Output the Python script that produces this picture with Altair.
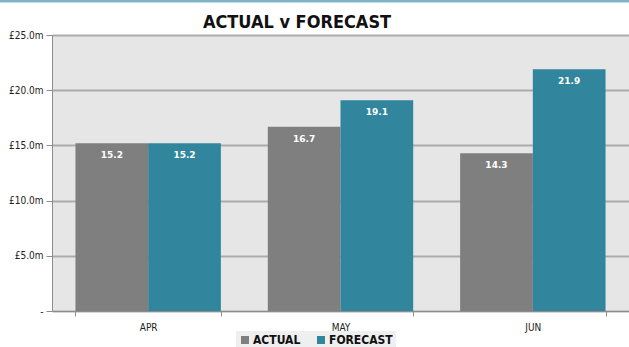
import altair as alt
import pandas as pd

months = ["APR", "MAY", "JUN"]
series = ["ACTUAL", "FORECAST"]
actual = [15.2, 16.7, 14.3]
forecast = [15.2, 19.1, 21.9]
title_text = "ACTUAL v FORECAST"

rows = []
for m, a, f in zip(months, actual, forecast):
    rows.append({"month": m, "series": "ACTUAL", "value": a})
    rows.append({"month": m, "series": "FORECAST", "value": f})
df = pd.DataFrame(rows)

FONT = "DejaVu Sans Condensed"

x = alt.X("month:N", sort=months, title=None,
          scale=alt.Scale(paddingInner=0.244, paddingOuter=0.122),
          axis=alt.Axis(labelAngle=0, tickBand="extent", labelFont=FONT, labelFontSize=10,
                        labelColor="#222222", domainColor="#8c8c8c", tickColor="#8c8c8c",
                        tickSize=5, labelPadding=6, grid=False))
xo = alt.XOffset("series:N", sort=series, scale=alt.Scale(paddingInner=0, paddingOuter=0))
y = alt.Y("value:Q", title=None,
          scale=alt.Scale(domain=[0, 25], nice=False),
          axis=alt.Axis(values=[0, 5, 10, 15, 20, 25],
                        labelExpr="datum.value == 0 ? '-' : '£' + format(datum.value, '.1f') + 'm'",
                        labelFont=FONT, labelFontSize=10, labelColor="#222222",
                        domainColor="#8c8c8c", tickColor="#8c8c8c", tickSize=6,
                        gridColor="#ababab", gridWidth=2, labelPadding=3))
color = alt.Color("series:N", sort=series,
                  scale=alt.Scale(domain=series, range=["#7f7f7f", "#31859c"]),
                  legend=alt.Legend(title=None, orient="none", direction="horizontal",
                                    legendX=184, legendY=296, fillColor="#efefef",
                                    padding=3, symbolType="square", symbolSize=64,
                                    symbolStrokeWidth=0, labelFont=FONT, labelFontSize=12,
                                    labelFontWeight="bold", labelColor="#111111",
                                    columnPadding=14, labelOffset=2))

bars = alt.Chart(df).mark_bar().encode(x=x, xOffset=xo, y=y, color=color)
labels = alt.Chart(df).mark_text(color="white", fontWeight="bold", font="DejaVu Sans",
                                 fontSize=9, dy=12, baseline="middle").encode(
    x=alt.X("month:N", sort=months), xOffset=alt.XOffset("series:N", sort=series),
    y="value:Q", text=alt.Text("value:Q", format=".1f"))

topline = alt.Chart(pd.DataFrame({"a": [0]})).mark_rule(color="#7fb5c6", strokeWidth=3).encode(
    x=alt.value(-60), x2=alt.value(640), y=alt.value(-34))

title = alt.Chart(pd.DataFrame({"t": [title_text]})).mark_text(
    font=FONT, fontSize=18, fontWeight="bold", color="#111111",
    align="center", baseline="alphabetic").encode(
    x=alt.value(245), y=alt.value(-7), text="t:N")

chart = alt.layer(bars, labels, topline, title).properties(
    width=577, height=276,
    autosize=alt.AutoSizeParams(type="none"),
    padding={"left": 52, "top": 35, "right": 0, "bottom": 36},
    background="white",
).configure_view(fill="#e6e6e6", stroke=None)

chart.save("out.html", embed_options={"renderer": "svg", "actions": False})
